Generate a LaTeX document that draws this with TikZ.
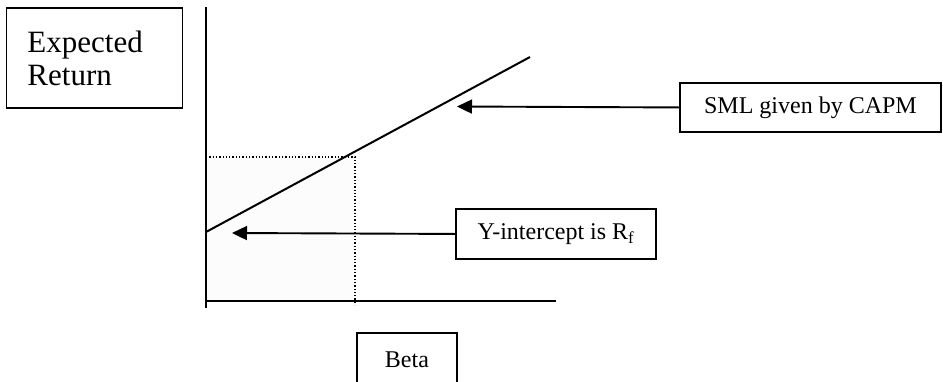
\documentclass[tikz,border=0pt]{standalone}
\usepackage{fontspec}
\setmainfont{Liberation Serif}
\usetikzlibrary{arrows.meta}

\tikzset{
  labelbox/.style={draw, line width=1.9pt, inner sep=0pt, align=center,
                   font=\fontsize{24}{26}\selectfont},
  axisline/.style={line width=2.1pt},
  pointer/.style={line width=1.9pt, -{Triangle[length=15pt,width=14pt]}},
  guide/.style={line width=1.3pt, dotted},
}

\begin{document}
\begin{tikzpicture}[x=1pt,y=-1pt]
  \useasboundingbox (0,0) rectangle (943,381);
  \clip (0,0) rectangle (943,381);

  % faint shading under the security market line
  \fill[black!1.2] (206,157) rectangle (355,301);

  % axes
  \coordinate (ytop) at (206,7);
  \coordinate (ybot) at (206,308);
  \coordinate (xleft) at (206,301);
  \coordinate (xright) at (556,301);
  \draw[axisline] (ytop) -- (ybot);
  \draw[axisline] (xleft) -- (xright);

  % dotted guides from the marked point to the axes
  \coordinate (gy) at (206,157);
  \coordinate (gp) at (355,157);
  \coordinate (gx) at (355,305);
  \draw[guide] (gy) -- (gp) -- (gx);

  % security market line
  \coordinate (smlstart) at (206,232);
  \coordinate (smlend) at (530,57);
  \draw[line width=2pt] (smlstart) -- (smlend);

  % labels
  \node[labelbox, minimum width=176pt, minimum height=100pt,
        text width=134pt, align=left, font=\fontsize{31}{33}\selectfont,
        anchor=north west] (er) at (5.5,7) {Expected\\Return};
  \node[labelbox, minimum width=261pt, minimum height=49pt,
        anchor=north west] (sml) at (679,82) {SML given by CAPM};
  \node[labelbox, minimum width=200pt, minimum height=50pt,
        anchor=north west] (yint) at (455,208) {Y-intercept is R\textsubscript{f}};
  \node[labelbox, minimum width=100pt, minimum height=54pt,
        anchor=north west] (beta) at (356,332) {Beta};

  % pointers
  \coordinate (smltip) at (457,106.5);
  \coordinate (ytip) at (232,233);
  \draw[pointer] (sml.west) -- (smltip);
  \draw[pointer] (yint.west) -- (ytip);
\end{tikzpicture}
\end{document}
